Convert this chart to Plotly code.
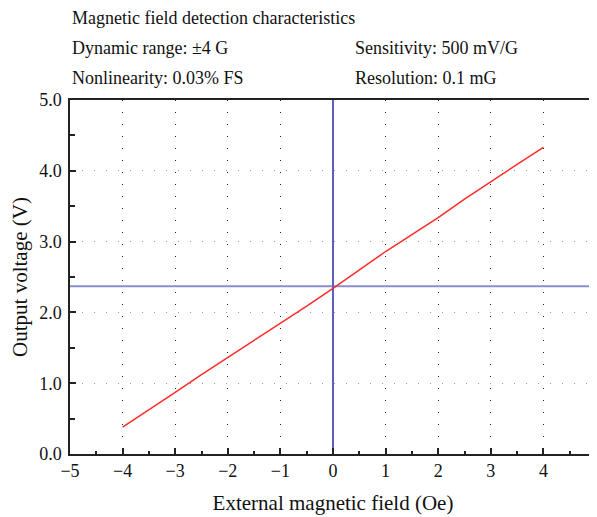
import plotly.graph_objects as go

# Data
field_oe = [-4, -3.5, -3, -2.5, -2, -1.5, -1, -0.5, 0, 0.5, 1, 1.5, 2, 2.5, 3, 3.5, 4]
output_v = [0.38, 0.62, 0.87, 1.12, 1.36, 1.60, 1.84, 2.09, 2.34, 2.60, 2.86, 3.10, 3.34, 3.60, 3.85, 4.09, 4.33]

ref_level_x = [-5, 5]
ref_level_y = [2.37, 2.37]
zero_field_x = [0, 0]
zero_field_y = [0, 5]

header_lines = [
    ("Magnetic field detection characteristics", None),
    ("Dynamic range: ±4 G", "Sensitivity: 500 mV/G"),
    ("Nonlinearity: 0.03% FS", "Resolution: 0.1 mG"),
]

FONT = "Liberation Serif, Times New Roman, serif"

fig = go.Figure()
fig.add_trace(go.Scatter(x=ref_level_x, y=ref_level_y, mode="lines",
                         line=dict(color="#8a8fcc", width=2), hoverinfo="skip"))
fig.add_trace(go.Scatter(x=zero_field_x, y=zero_field_y, mode="lines",
                         line=dict(color="#5a5fc0", width=2), hoverinfo="skip"))
fig.add_trace(go.Scatter(x=field_oe, y=output_v, mode="lines",
                         line=dict(color="#ff2a2a", width=1.5)))

annotations = []
ys = [1.231, 1.146, 1.061]
for (left, right), yy in zip(header_lines, ys):
    annotations.append(dict(text=left, x=0.0, y=yy, xref="paper", yref="paper",
                            xanchor="left", yanchor="middle", showarrow=False,
                            font=dict(family=FONT, size=18, color="#111")))
    if right:
        annotations.append(dict(text=right, x=0.538, y=yy, xref="paper", yref="paper",
                                xanchor="left", yanchor="middle", showarrow=False,
                                font=dict(family=FONT, size=18, color="#111")))

fig.update_layout(
    width=589, height=509,
    margin=dict(l=62, r=1, t=92, b=63),
    paper_bgcolor="white", plot_bgcolor="white",
    showlegend=False,
    font=dict(family=FONT, size=18, color="#111"),
    annotations=annotations,
)
fig.update_xaxes(
    range=[-5, 5], dtick=1, tick0=0,
    showline=True, linecolor="#222", linewidth=1.5, mirror=True,
    ticks="inside", ticklen=6, tickcolor="#222", tickwidth=1.5,
    minor=dict(dtick=0.5, ticks="inside", ticklen=3, tickcolor="#222", showgrid=False),
    showgrid=True, gridcolor="#222", gridwidth=1, griddash="1px,11px",
    zeroline=False, automargin=False, ticklabeloverflow="allow",
    tickfont=dict(family=FONT, size=18),
    title=dict(text="External magnetic field (Oe)", standoff=15,
               font=dict(family=FONT, size=21)),
)
fig.update_yaxes(
    range=[0, 5], dtick=1, tick0=0, tickformat=".1f",
    showline=True, linecolor="#222", linewidth=1.5, mirror=True,
    ticks="inside", ticklen=6, tickcolor="#222", tickwidth=1.5,
    minor=dict(dtick=0.5, ticks="inside", ticklen=5, tickcolor="#222", showgrid=False),
    showgrid=True, gridcolor="#999", gridwidth=1, griddash="1px,11px",
    zeroline=False, automargin=False, ticklabelstandoff=3, ticklabeloverflow="allow",
    tickfont=dict(family=FONT, size=18),
    title=dict(text="Output voltage (V)", standoff=11,
               font=dict(family=FONT, size=21)),
)

fig.write_html("out.html")
